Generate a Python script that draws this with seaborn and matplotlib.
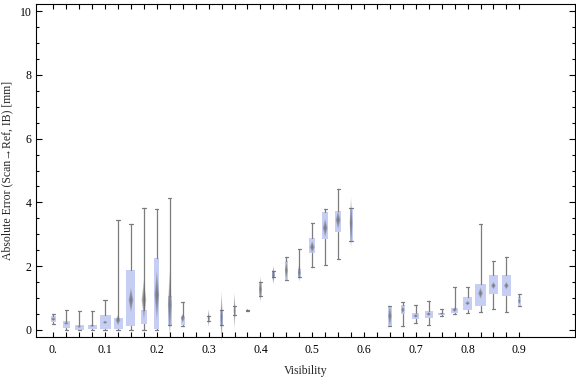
import numpy as np
import matplotlib
matplotlib.use('Agg')
import matplotlib.pyplot as plt
from matplotlib.ticker import FixedLocator
import seaborn as sns

# ---------------------------------------------------------------
# data (one box per visibility bin)
# ---------------------------------------------------------------
visibility = [0.0, 0.025, 0.05, 0.075, 0.1, 0.125, 0.15, 0.175, 0.2, 0.225, 0.25,
              0.3, 0.325, 0.35, 0.375, 0.4, 0.425, 0.45, 0.475, 0.5, 0.525, 0.55, 0.575,
              0.65, 0.675, 0.7, 0.725, 0.75, 0.775, 0.8, 0.825, 0.85, 0.875, 0.9]
whisker_hi = [0.49, 0.62, 0.58, 0.58, 0.93, 3.44, 3.31, 3.81, 3.78, 4.13, 0.87,
              0.44, 0.62, 0.75, 0.64, 1.50, 1.85, 2.28, 2.53, 3.34, 3.78, 4.43, 3.83,
              0.75, 0.87, 0.77, 0.91, 0.66, 1.34, 1.34, 3.31, 2.15, 2.28, 1.13]
q3 = [0.44, 0.28, 0.16, 0.17, 0.47, 0.38, 1.88, 0.63, 2.25, 1.07, 0.45,
      0.44, 0.62, 0.75, 0.63, 1.50, 1.83, 2.16, 1.92, 2.87, 3.70, 3.73, 3.83,
      0.75, 0.77, 0.52, 0.61, 0.53, 0.69, 1.03, 1.44, 1.72, 1.72, 1.04]
q1 = [0.25, 0.07, 0.00, 0.04, 0.04, 0.04, 0.14, 0.20, 0.03, 0.16, 0.17,
      0.29, 0.15, 0.46, 0.61, 1.05, 1.67, 1.57, 1.65, 2.42, 2.86, 3.08, 2.79,
      0.13, 0.49, 0.33, 0.37, 0.48, 0.52, 0.64, 0.76, 1.14, 1.08, 0.75]
whisker_lo = [0.18, 0.00, 0.00, 0.00, 0.00, 0.00, 0.00, 0.00, 0.00, 0.16, 0.13,
              0.29, 0.15, 0.46, 0.61, 1.05, 1.67, 1.57, 1.65, 1.97, 2.03, 2.22, 2.79,
              0.13, 0.12, 0.21, 0.15, 0.45, 0.49, 0.53, 0.55, 0.65, 0.55, 0.74]
mean_err = [0.34, 0.21, 0.10, 0.13, 0.24, 0.31, 0.94, 0.95, 1.10, 0.80, 0.37,
            0.37, 0.40, 0.60, 0.62, 1.27, 1.72, 1.87, 1.80, 2.60, 3.20, 3.45, 3.35,
            0.44, 0.63, 0.44, 0.50, 0.51, 0.63, 0.84, 1.15, 1.39, 1.39, 0.91]
mean_ci = [0.06, 0.05, 0.03, 0.03, 0.05, 0.17, 0.40, 0.65, 0.80, 1.10, 0.15,
           0.30, 0.85, 0.60, 0.05, 0.42, 0.30, 0.33, 0.30, 0.20, 0.30, 0.30, 0.85,
           0.35, 0.12, 0.06, 0.06, 0.03, 0.07, 0.07, 0.18, 0.12, 0.12, 0.12]
# relative sample size -> box width
rel_n = [5, 7, 9, 9, 11, 9, 9, 6, 5, 4, 4,
         2, 2.5, 2, 1.5, 3, 3, 3, 3, 6, 6, 6, 3,
         3.5, 3.5, 7, 8, 7, 7, 9, 11, 9, 9, 2.5]

major_x = [0.0, 0.1, 0.2, 0.3, 0.4, 0.5, 0.6, 0.7, 0.8, 0.9]
major_x_labels = ['0.', '0.1', '0.2', '0.3', '0.4', '0.5', '0.6', '0.7', '0.8', '0.9']
major_y = [0, 2, 4, 6, 8, 10]

# ---------------------------------------------------------------
sns.set_style('ticks')
plt.rcParams['font.family'] = ['Liberation Serif', 'DejaVu Serif']
plt.rcParams['font.size'] = 8.5

BOX_COLOR = '#c6cef4'
LINE_COLOR = '#7c7c7c'

fig = plt.figure(figsize=(5.76, 3.77), dpi=100)
ax = fig.add_axes([0.0625, 0.1053, 0.9358, 0.884])

xlim = (-0.0334, 1.0075)
px = (xlim[1] - xlim[0]) / (0.9358 * 576)   # one pixel in data units along x
widths = np.array(rel_n) * px

stats = [dict(q1=a, q3=b, med=m, whislo=lo, whishi=hi)
         for a, b, m, lo, hi in zip(q1, q3, mean_err, whisker_lo, whisker_hi)]
ax.bxp(stats, positions=visibility, widths=widths, capwidths=3.2 * px,
       showfliers=False, patch_artist=True, manage_ticks=False,
       boxprops=dict(facecolor=BOX_COLOR, edgecolor='none', linewidth=0),
       whiskerprops=dict(color=LINE_COLOR, linewidth=0.9),
       capprops=dict(color=LINE_COLOR, linewidth=0.9),
       medianprops=dict(linewidth=0))

# mean diamonds, shaded toward the tips
for x, m, c, w in zip(visibility, mean_err, mean_ci, widths):
    dw = min(w, 5 * px) / 2
    for s in np.linspace(1, 0.15, 8):
        ax.fill([x - dw * s, x, x + dw * s, x], [m, m + c * s, m, m - c * s],
                color='#6a6a6a', alpha=0.2, lw=0, zorder=4, clip_on=False)

ax.set_xlim(*xlim)
ax.set_ylim(-0.23, 10.22)
ax.set_xticks(major_x)
ax.set_xticklabels(major_x_labels)
ax.xaxis.set_minor_locator(FixedLocator(np.arange(0, 0.901, 0.025)))
ax.set_yticks(major_y)
ax.yaxis.set_minor_locator(FixedLocator(np.arange(0, 10.01, 0.5)))

ax.tick_params(which='both', direction='in', top=True, right=True,
               color='black', width=0.8, labelcolor='black', labelsize=8.5)
ax.tick_params(axis='x', which='both', length=3.6, pad=4.5)
ax.tick_params(axis='y', which='major', length=4.2, pad=3)
ax.tick_params(axis='y', which='minor', length=2.2)
for sp in ax.spines.values():
    sp.set_color('black')
    sp.set_linewidth(0.8)

ax.set_xlabel('Visibility', fontsize=8.5, labelpad=7)
ax.set_ylabel('Absolute Error (Scan\u2192Ref, IB) [mm]', fontsize=8.5, labelpad=5)

fig.savefig('out.png', dpi=100)
